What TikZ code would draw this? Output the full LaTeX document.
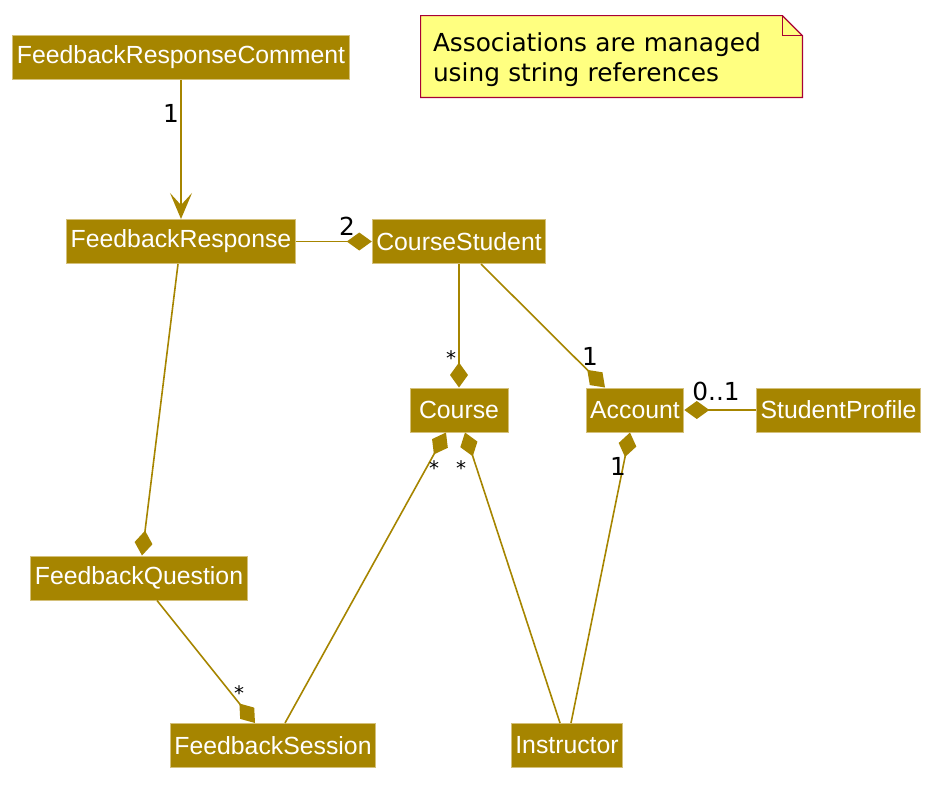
\documentclass[tikz,border=0pt]{standalone}
\usepackage{fontspec}
\setmainfont{Liberation Sans}
\newfontfamily\notefont{DejaVu Sans}
\usetikzlibrary{arrows.meta,calc,backgrounds}

\definecolor{umlgold}{RGB}{166,133,0}
\definecolor{umlgoldline}{RGB}{212,192,122}
\definecolor{notefill}{RGB}{255,255,128}
\definecolor{noteline}{RGB}{168,0,54}

\begin{document}
\begin{tikzpicture}[
  x=0.5pt, y=-0.5pt,
  box/.style={rectangle, draw=umlgoldline, line width=0.5pt, fill=umlgold, text=white,
    font=\fontsize{12.4}{14}\selectfont, inner xsep=2pt, minimum height=22pt},
  comp/.style={draw=umlgold, line width=0.8pt, -{Diamond[length=12.5pt, width=9pt]}},
  assoc/.style={draw=umlgold, line width=0.8pt, -{Stealth[length=13pt, width=11pt, inset=6pt]}},
  mult/.style={font=\notefont\fontsize{12.4}{14}\selectfont, inner sep=0pt, anchor=base},
  star/.style={mult, font=\notefont\fontsize{10}{12}\selectfont},
  notebox/.style={font=\notefont\fontsize{12.4}{15}\selectfont, align=left, text width=178.5pt,
    inner xsep=6pt, minimum width=190.5pt, minimum height=40.5pt, text depth=14pt},
]
\useasboundingbox (0,0) rectangle (942,789);

% === classes ===
\node[box] (frc) at (181,57) {FeedbackResponseComment};
\node[box] (fr) at (181,241.5) {FeedbackResponse};
\node[box] (cs) at (459,241.5) {CourseStudent};
\node[box, minimum width=49pt] (course) at (459,410) {Course};
\node[box] (acc) at (635,410) {Account};
\node[box] (sp) at (838.5,410) {StudentProfile};
\node[box] (fq) at (139,578) {FeedbackQuestion};
\node[box] (fs) at (273,745.5) {FeedbackSession};
\node[box] (inst) at (567,745.5) {Instructor};

% === note ===
\node[notebox] (note) at (611.5,56.5) {Associations are managed\\using string references};
\begin{scope}[on background layer]
  \draw[fill=notefill, draw=noteline, line width=0.6pt]
    (note.north west) -- ($(note.north east)+(-20,0)$) -- ($(note.north east)+(0,20)$)
    -- (note.south east) -- (note.south west) -- cycle;
  \draw[draw=noteline, line width=0.6pt]
    ($(note.north east)+(-20,0)$) -- ($(note.north east)+(-20,20)$) -- ($(note.north east)+(0,20)$);
\end{scope}

% === associations ===
\draw[assoc] (frc.south) -- (fr.north);
\draw[comp] (fr.east) -- (cs.west);
\draw[comp] (cs.south) -- (course.north);
\draw[comp] ($(cs.south)+(22,0)$) -- ($(acc.north)+(-30,0)$);
\draw[comp] ($(fs.north)+(12,0)$) -- ($(course.south)+(-13,0)$);
\draw[comp] ($(inst.north)+(-7,0)$) -- ($(course.south)+(6,0)$);
\draw[comp] ($(inst.north)+(4,0)$) -- ($(acc.south)+(-5,0)$);
\draw[comp] (sp.west) -- (acc.east);
\draw[comp] ($(fr.south)+(-3,0)$) -- ($(fq.north)+(3,0)$);
\draw[comp] ($(fq.south)+(18,0)$) -- ($(fs.north)+(-18,0)$);

% === multiplicities ===
\node[mult] (m1) at (171,122) {1};
\node[mult] (m2) at (347,235) {2};
\node[star] (m3) at (451,365) {*};
\node[mult] (m4) at (590,365) {1};
\node[mult] (m5) at (716,400) {0..1};
\node[mult] (m6) at (618,475) {1};
\node[star] (m7) at (434,475) {*};
\node[star] (m8) at (461,475) {*};
\node[star] (m9) at (239,700) {*};

\end{tikzpicture}
\end{document}
